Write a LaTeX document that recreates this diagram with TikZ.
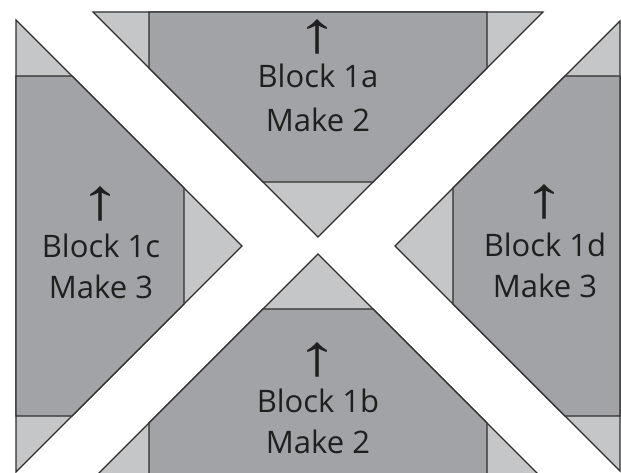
\documentclass[tikz,border=0pt]{standalone}
\usepackage{fontspec}
\setmainfont{Open Sans}
\newfontfamily\arrowfont{Liberation Sans}
\definecolor{darkpiece}{HTML}{A2A3A6}
\definecolor{lightpiece}{HTML}{C5C6C8}
\definecolor{edge}{HTML}{2E2E2E}
\newcommand{\uparr}{\scalebox{1.45}[1]{↑}}
\tikzset{
  lightfill/.style={fill=lightpiece, draw=edge, line width=1.1pt, line join=miter},
  darkfill/.style={fill=darkpiece, draw=edge, line width=1.1pt, line join=miter},
  lbl/.style={inner sep=0pt, anchor=base, text=black!88, font=\fontsize{31}{36}\selectfont},
  arr/.style={inner sep=0pt, anchor=base, text=black!88, font=\arrowfont\fontsize{58}{66}\selectfont}
}
\begin{document}
\begin{tikzpicture}[x=1pt, y=-1pt]
\useasboundingbox (0,0) rectangle (621,473);
\clip (0,0) rectangle (621,473);
\fill[white] (0,0) rectangle (621,473);
% Block 1a (top)
\path[lightfill] (93,12) -- (543,12) -- (318,237) -- cycle;
\path[darkfill] (149,12) -- (487,12) -- (487,68) -- (373,182) -- (263,182) -- (149,68) -- cycle;
% Block 1b (bottom)
\path[lightfill] (318,254) -- (543,479) -- (93,479) -- cycle;
\path[darkfill] (263,309) -- (373,309) -- (487,423) -- (487,480) -- (149,480) -- (149,423) -- cycle;
% Block 1c (left)
\path[lightfill] (16,20) -- (242,246) -- (16,472) -- cycle;
\path[darkfill] (16,76) -- (72,76) -- (184,188) -- (184,304) -- (72,416) -- (16,416) -- cycle;
% Block 1d (right)
\path[lightfill] (620,21) -- (395,246) -- (620,471) -- cycle;
\path[darkfill] (620,76) -- (565,76) -- (453,188) -- (453,304) -- (565,416) -- (620,416) -- cycle;
% labels
\node[arr] (a0) at (318,53) {\uparr};
\node[lbl] (a1) at (318,88) {Block 1a};
\node[lbl] (a2) at (318,132) {Make 2};
\node[arr] (b0) at (318,375) {\uparr};
\node[lbl] (b1) at (318,412) {Block 1b};
\node[lbl] (b2) at (318,453) {Make 2};
\node[arr] (c0) at (101,220) {\uparr};
\node[lbl] (c1) at (101,257) {Block 1c};
\node[lbl] (c2) at (101,298) {Make 3};
\node[arr] (d0) at (545,218) {\uparr};
\node[lbl] (d1) at (545,256) {Block 1d};
\node[lbl] (d2) at (545,297) {Make 3};
\end{tikzpicture}
\end{document}
